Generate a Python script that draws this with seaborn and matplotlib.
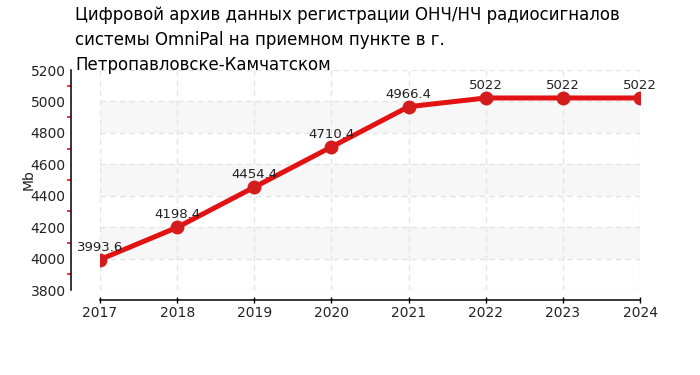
import matplotlib
matplotlib.use('Agg')
import matplotlib.pyplot as plt
import seaborn as sns
import pandas as pd
from matplotlib.ticker import MultipleLocator

# Data
years = [2017, 2018, 2019, 2020, 2021, 2022, 2023, 2024]
sizes = [3993.6, 4198.4, 4454.4, 4710.4, 4966.4, 5022, 5022, 5022]
value_labels = ['3993.6', '4198.4', '4454.4', '4710.4', '4966.4', '5022', '5022', '5022']
band_starts = [4000, 4400, 4800]

title_lines = ['Цифровой архив данных регистрации ОНЧ/НЧ радиосигналов',
               'системы OmniPal на приемном пункте в г.',
               'Петропавловске-Камчатском']

df = pd.DataFrame({'year': years, 'mb': sizes})

sns.set_style('white')
plt.rcParams['font.family'] = ['DejaVu Sans']

W, H = 700, 375
PX = 72 / 100  # points per pixel at dpi 100

fig = plt.figure(figsize=(W / 100, H / 100), dpi=100)
ax = fig.add_axes([100 / W, 1 - 290 / H, 540 / W, 220 / H])

# alternating gray bands
for b in band_starts:
    ax.axhspan(b, b + 200, color='#f7f7f7', zorder=0, linewidth=0)

sns.lineplot(data=df, x='year', y='mb', ax=ax, color='#e31212', linewidth=3.6,
             marker='o', markersize=9, markerfacecolor='#d41c1c',
             markeredgecolor='#d41c1c', markeredgewidth=1, zorder=3)

for x, y, lab in zip(years, sizes, value_labels):
    ax.annotate(lab, (x, y), xytext=(0, 9 * PX), textcoords='offset points',
                ha='center', va='baseline', fontsize=9.5, color='#222222')

ax.set_xlim(2017, 2024)
ax.set_ylim(3800, 5200)
ax.set_xticks(years)
ax.yaxis.set_major_locator(MultipleLocator(200))
ax.yaxis.set_minor_locator(MultipleLocator(100))
ax.grid(True, which='major', color='#e4e4e4', linestyle=(0, (4, 3)), linewidth=1)
ax.set_axisbelow(True)

for s in ['top', 'right']:
    ax.spines[s].set_visible(False)
ax.spines['left'].set_position(('outward', 29 * PX))
ax.spines['bottom'].set_position(('outward', 10 * PX))
for s in ['left', 'bottom']:
    ax.spines[s].set_color('black')
    ax.spines[s].set_linewidth(1.1)

ax.tick_params(axis='y', which='major', direction='out', length=4 * PX, width=1,
               color='black', labelsize=10, pad=1, labelcolor='#222222')
ax.tick_params(axis='y', which='minor', direction='out', length=4 * PX, width=1.3,
               color='#ff2020', left=True)
ax.tick_params(axis='x', which='major', direction='inout', length=6 * PX, width=1,
               color='black', labelsize=10, pad=2, bottom=True, labelcolor='#222222')

ax.set_xlabel('')
ax.set_ylabel('Mb', fontsize=10, color='#222222')
ax.yaxis.set_label_coords(-(100 - 36) / 540, 0.5)

for i, line in enumerate(title_lines):
    fig.text(75 / W, 1 - (20 + 25 * i) / H, line, ha='left', va='baseline',
             fontsize=12, color='black')

fig.savefig('out.png', dpi=100)
